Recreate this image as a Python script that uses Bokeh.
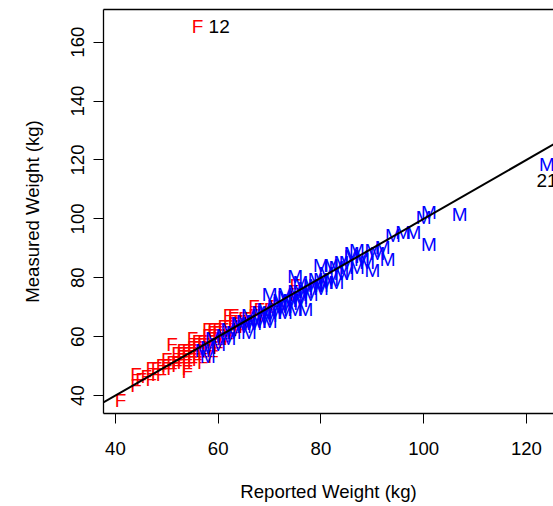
from bokeh.plotting import figure
from bokeh.models import Range1d, FixedTicker, LinearAxis, Slope, ColumnDataSource
from bokeh.core.properties import value
from bokeh.embed import file_html
from bokeh.resources import INLINE

# Female: reported weight, measured weight (kg)
f_repwt = [51, 54, 59, 56, 52, 64, 57, 66, 62, 61, 61, 59, 50, 61, 60, 41, 71, 52, 63, 54,
           53, 59, 55, 56, 75, 57, 65, 69, 52, 48,
           44, 44, 45, 47, 47, 49, 50, 52, 53, 54, 53, 55, 54, 56, 55, 57, 58, 62, 63, 67, 75,
           55, 56, 58, 57, 60, 59, 62, 63, 58, 60, 54, 53, 56, 55, 51, 50, 58, 64, 65, 62,
           60, 61, 64, 57, 52, 49, 46, 56, 59, 63, 66, 68, 70, 55, 57, 60, 53, 58, 62, 51,
           54, 61, 48, 65, 67, 59, 56, 58, 63, 60]
f_weight = [58, 53, 59, 166, 51, 64, 52, 65, 62, 61, 61, 54, 50, 63, 58, 39, 71, 52, 68, 56,
            54, 63, 54, 54, 75, 56, 66, 68, 52, 48,
            44, 48, 46, 46, 50, 48, 51, 52, 53, 50, 55, 60, 49, 59, 52, 55, 63, 68, 67, 71, 78,
            55, 57, 57, 58, 61, 60, 61, 62, 59, 60, 55, 52, 56, 57, 52, 53, 56, 66, 64, 64,
            62, 59, 63, 59, 55, 51, 47, 53, 57, 65, 67, 70, 70, 56, 57, 57, 56, 61, 60, 50,
            54, 64, 50, 67, 68, 62, 58, 58, 64, 63]

# Male: reported weight, measured weight (kg)
m_repwt = [77, 70, 76, 77, 73, 71, 64, 75, 101, 75, 124, 66, 70, 100, 73, 76, 65, 69, 86, 67,
           80, 80, 82, 85, 73, 107, 64, 74, 70, 58, 82, 72, 101,
           57, 58, 61, 66, 69, 75, 80, 86, 88, 83, 72, 77, 94, 96, 98, 91, 93, 90, 87, 84, 89,
           78, 79, 81, 74, 68, 67, 63, 62, 60, 59, 65, 71, 72, 76, 78, 79, 83, 84, 88, 90,
           92, 81, 69, 66, 73, 76, 85, 87, 80, 75, 62, 68]
m_weight = [77, 68, 76, 76, 69, 71, 65, 70, 92, 76, 119, 65, 66, 101, 75, 79, 64, 69, 88, 65,
            80, 78, 85, 82, 74, 102, 65, 73, 75, 57, 80, 73, 103,
            56, 54, 61, 62, 67, 81, 85, 89, 87, 79, 72, 70, 95, 96, 96, 89, 87, 83, 90, 82, 86,
            75, 78, 79, 72, 66, 66, 62, 60, 58, 60, 66, 69, 70, 74, 78, 80, 84, 86, 88, 90,
            91, 82, 70, 68, 71, 73, 86, 84, 77, 74, 63, 69]

# Labelled outliers: case id, reported, measured
out_ids = ["12", "21"]
out_repwt = [56, 124]
out_weight = [166, 119]

x_ticks = [40, 60, 80, 100, 120]
y_ticks = [40, 60, 80, 100, 120, 140, 160]

FONT = "Liberation Sans"

all_x = f_repwt + m_repwt
all_y = f_weight + m_weight
xr = max(all_x) - min(all_x)
yr = max(all_y) - min(all_y)
x0 = min(all_x) - 0.04 * xr
y0 = min(all_y) - 0.04 * yr
y1 = max(all_y) + 0.04 * yr
x1 = x0 + 87.59  # visible part of the plot region

p = figure(width=553, height=506, output_backend="svg", toolbar_location=None,
           x_range=Range1d(x0, x1), y_range=Range1d(y0, y1),
           min_border_left=103, min_border_right=0, min_border_top=9, min_border_bottom=93)
p.outline_line_color = None
p.xgrid.visible = False
p.ygrid.visible = False
p.background_fill_color = "white"
p.border_fill_color = "white"

for ax, ticks in ((p.xaxis[0], x_ticks), (p.yaxis[0], y_ticks)):
    ax.ticker = FixedTicker(ticks=ticks)
    ax.minor_tick_line_color = None
    ax.major_tick_in = 0
    ax.major_tick_out = 10
    ax.major_tick_line_color = "black"
    ax.axis_line_color = "black"
    ax.axis_line_width = 1.3
    ax.major_label_text_font = FONT
    ax.major_label_text_font_size = "18.6px"
    ax.major_label_text_color = "black"
    ax.axis_label_text_font = FONT
    ax.axis_label_text_font_size = "18.6px"
    ax.axis_label_text_font_style = "normal"
    ax.axis_label_text_color = "black"

p.xaxis.axis_label = "Reported Weight (kg)"
p.yaxis.axis_label = "Measured Weight (kg)"
p.xaxis.major_label_standoff = 18
p.xaxis.axis_label_standoff = 23
p.yaxis.major_label_standoff = 9
p.yaxis.axis_label_standoff = 26
p.yaxis.major_label_orientation = "vertical"

top = LinearAxis(ticker=FixedTicker(ticks=[]), axis_line_color="black", axis_line_width=1.3,
                 major_tick_out=0, major_tick_in=0, minor_tick_out=0, minor_tick_in=0,
                 major_label_text_font_size="0px")
p.add_layout(top, "above")

p.add_layout(Slope(gradient=1, y_intercept=0, line_color="black", line_width=2))

fsrc = ColumnDataSource(dict(x=f_repwt, y=f_weight, t=["F"] * len(f_repwt)))
msrc = ColumnDataSource(dict(x=m_repwt, y=m_weight, t=["M"] * len(m_repwt)))
p.text("x", "y", text="t", source=fsrc, text_color="#FF0000", text_font=value(FONT),
       text_font_size="19px", text_align="center", text_baseline="middle", y_offset=2)
p.text("x", "y", text="t", source=msrc, text_color="#0000FF", text_font=value(FONT),
       text_font_size="19px", text_align="center", text_baseline="middle", y_offset=2)

p.text(x=[out_repwt[0]], y=[out_weight[0]], text=[out_ids[0]], text_color="black",
       text_font=value(FONT), text_font_size="19px", text_align="left",
       text_baseline="middle", x_offset=11, y_offset=2)
p.text(x=[out_repwt[1]], y=[out_weight[1]], text=[out_ids[1]], text_color="black",
       text_font=value(FONT), text_font_size="19px", text_align="center",
       text_baseline="middle", y_offset=18)

open("out.html", "w").write(file_html(p, INLINE))
